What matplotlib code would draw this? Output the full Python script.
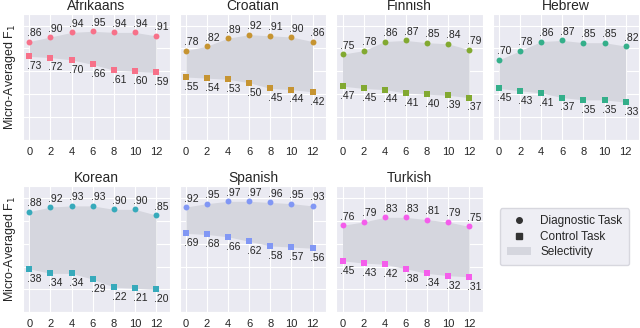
import matplotlib
matplotlib.use("Agg")
import matplotlib.pyplot as plt
import seaborn as sns
import numpy as np
from matplotlib.lines import Line2D
from matplotlib.patches import Patch

sns.set_style("darkgrid")
plt.rcParams['font.family'] = ['Liberation Sans', 'DejaVu Sans']

layers = [0, 2, 4, 6, 8, 10, 12]
languages = ["Afrikaans", "Croatian", "Finnish", "Hebrew", "Korean", "Spanish", "Turkish"]

afrikaans_diag = [.86, .90, .94, .95, .94, .94, .91]
afrikaans_ctrl = [.73, .72, .70, .66, .61, .60, .59]
croatian_diag = [.78, .82, .89, .92, .91, .90, .86]
croatian_ctrl = [.55, .54, .53, .50, .45, .44, .42]
finnish_diag = [.75, .78, .86, .87, .85, .84, .79]
finnish_ctrl = [.47, .45, .44, .41, .40, .39, .37]
hebrew_diag = [.70, .78, .86, .87, .85, .85, .82]
hebrew_ctrl = [.45, .43, .41, .37, .35, .35, .33]
korean_diag = [.88, .92, .93, .93, .90, .90, .85]
korean_ctrl = [.38, .34, .34, .29, .22, .21, .20]
spanish_diag = [.92, .95, .97, .97, .96, .95, .93]
spanish_ctrl = [.69, .68, .66, .62, .58, .57, .56]
turkish_diag = [.76, .79, .83, .83, .81, .79, .75]
turkish_ctrl = [.45, .43, .42, .38, .34, .32, .31]

diagnostic = [afrikaans_diag, croatian_diag, finnish_diag, hebrew_diag,
              korean_diag, spanish_diag, turkish_diag]
control = [afrikaans_ctrl, croatian_ctrl, finnish_ctrl, hebrew_ctrl,
           korean_ctrl, spanish_ctrl, turkish_ctrl]

colors = sns.color_palette("husl", 7)
fill_color = '#d5d6de'


def fmt(v):
    # ".86" style labels
    return ("%.2f" % v).lstrip("0")


fig, axes = plt.subplots(2, 4, figsize=(6.4, 3.28), dpi=100)
fig.subplots_adjust(left=0.036, right=0.999, bottom=0.048, top=0.957,
                    wspace=0.068, hspace=0.37)

for i, lang in enumerate(languages):
    ax = axes.flat[i]
    d = diagnostic[i]
    c = control[i]
    ax.fill_between(layers, c, d, color=fill_color, lw=0, zorder=1)
    ax.scatter(layers, d, marker='o', s=18, color=colors[i], zorder=3, linewidths=0)
    ax.scatter(layers, c, marker='s', s=18, color=colors[i], zorder=3, linewidths=0)
    for x, v in zip(layers, d):
        ax.annotate(fmt(v), (x, v), xytext=(-1.5, 2.5), textcoords="offset points",
                    ha='left', va='bottom', fontsize=7.5, color='#262626')
    for x, v in zip(layers, c):
        ax.annotate(fmt(v), (x, v), xytext=(-1.5, -3.5), textcoords="offset points",
                    ha='left', va='top', fontsize=7.5, color='#262626')
    ax.set_title(lang, fontsize=10, pad=3)
    ax.set_xlim(-0.6, 13.3)
    ax.set_ylim(0, 1.1)
    ax.set_xticks(layers)
    ax.set_yticks([0, 0.2, 0.4, 0.6, 0.8, 1.0])
    ax.set_yticklabels([])
    ax.tick_params(axis='x', labelsize=8, pad=1.5)
    if i % 4 == 0:
        ax.set_ylabel("Micro-Averaged F$_1$", fontsize=9)
        ax.yaxis.set_label_coords(-0.035, 0.5)

axes.flat[7].axis('off')

handles = [
    Line2D([], [], marker='o', ls='', color='#333333', markersize=4),
    Line2D([], [], marker='s', ls='', color='#333333', markersize=4),
    Patch(facecolor=fill_color, edgecolor='none'),
]
leg = axes.flat[7].legend(handles, ["Diagnostic Task", "Control Task", "Selectivity"],
                          loc='center', bbox_to_anchor=(0.49, 0.60), fontsize=8.5,
                          frameon=True, facecolor='#eaeaf2', edgecolor='#d0d0d8',
                          handlelength=2.0, borderpad=0.6, labelspacing=0.3)

plt.savefig("out.png", dpi=100)
